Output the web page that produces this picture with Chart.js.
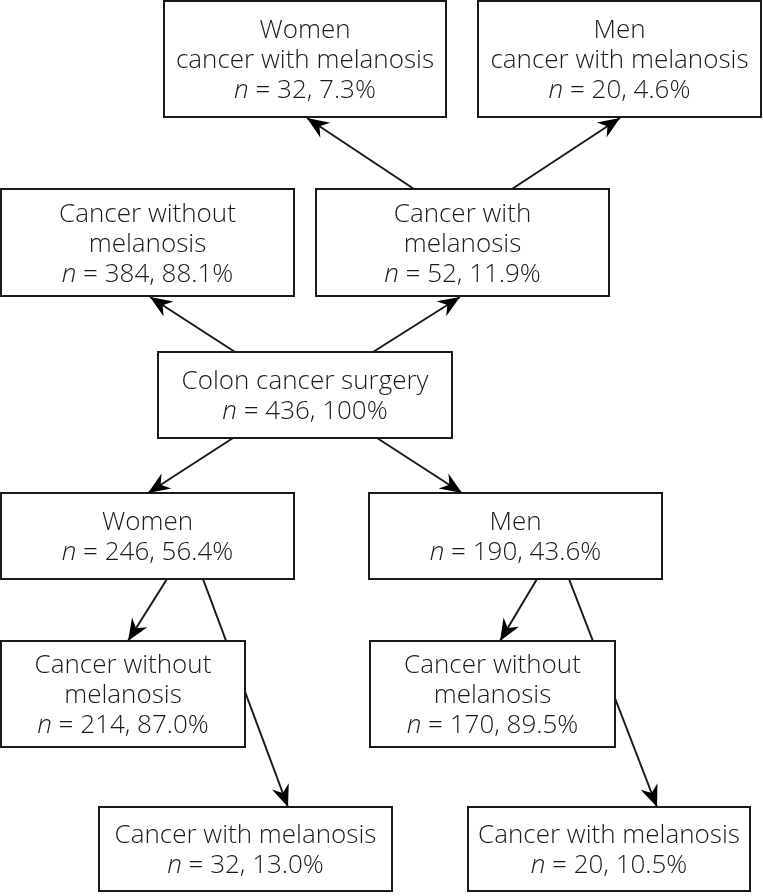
<!DOCTYPE html>
<html>
<head>
<meta charset="utf-8">
<script src="https://cdn.jsdelivr.net/npm/chart.js@4.4.0/dist/chart.umd.min.js"></script>
<style>
html,body{margin:0;padding:0;background:#fff;}
canvas{display:block;}
</style>
</head>
<body>
<canvas id="c" width="763" height="896"></canvas>
<script>
// ---- data ----
const nodeTitles = [
  ["Women", "cancer with melanosis"],
  ["Men", "cancer with melanosis"],
  ["Cancer without", "melanosis"],
  ["Cancer with", "melanosis"],
  ["Colon cancer surgery"],
  ["Women"],
  ["Men"],
  ["Cancer without", "melanosis"],
  ["Cancer without", "melanosis"],
  ["Cancer with melanosis"],
  ["Cancer with melanosis"]
];
const nodeCounts = [32, 20, 384, 52, 436, 246, 190, 214, 170, 32, 20];
const nodePercents = ["7.3", "4.6", "88.1", "11.9", "100", "56.4", "43.6", "87.0", "89.5", "13.0", "10.5"];

// ---- layout (scale units) ----
const nodeBoxes = [
  [164, 1, 446, 117],
  [478, 1, 761, 117],
  [1, 189, 294, 296],
  [316, 189, 609, 296],
  [158, 352, 452, 438],
  [1, 493, 294, 579],
  [369, 493, 662, 579],
  [1, 641, 245, 747],
  [370, 641, 615, 747],
  [99, 807, 392, 891],
  [468, 807, 750, 891]
];
// from node, to node, start point, end point
const edges = [
  [3, 0, 414, 189, 307, 118],
  [3, 1, 512, 189, 620, 118],
  [4, 2, 235, 352, 150, 297],
  [4, 3, 373, 352, 460, 297],
  [4, 5, 233, 438, 148, 493],
  [4, 6, 377, 438, 462, 493],
  [5, 7, 167, 579, 128, 641],
  [5, 9, 203, 579, 288, 807],
  [6, 8, 537, 579, 500, 641],
  [6, 10, 569, 579, 657, 807]
];

const FONT = "'Open Sans', 'Noto Sans', sans-serif";
const FS = 26;
const LH = 30;
const INK = '#1a1a1a';

const flowPlugin = {
  id: 'flow',
  afterDraw(chart) {
    const ctx = chart.ctx;
    const xs = chart.scales.x, ys = chart.scales.y;
    const px = v => xs.getPixelForValue(v);
    const py = v => ys.getPixelForValue(v);
    ctx.save();
    ctx.strokeStyle = INK;
    ctx.lineWidth = 2;
    edges.forEach(e => {
      ctx.beginPath();
      ctx.moveTo(px(e[2]), py(e[3]));
      ctx.lineTo(px(e[4]), py(e[5]));
      ctx.stroke();
    });
    nodeBoxes.forEach((b, i) => {
      const x0 = px(b[0]), y0 = py(b[1]), x1 = px(b[2]), y1 = py(b[3]);
      ctx.fillStyle = '#fff';
      ctx.fillRect(x0, y0, x1 - x0, y1 - y0);
      ctx.strokeStyle = INK;
      ctx.lineWidth = 2;
      ctx.strokeRect(x0, y0, x1 - x0, y1 - y0);
      const lines = nodeTitles[i].length + 1;
      const cx = (x0 + x1) / 2, cy = (y0 + y1) / 2 + 2;
      let ty = cy - (lines - 1) * LH / 2;
      ctx.fillStyle = INK;
      ctx.textBaseline = 'middle';
      ctx.textAlign = 'left';
      nodeTitles[i].forEach(t => {
        ctx.font = `300 ${FS}px ${FONT}`;
        const w = ctx.measureText(t).width;
        ctx.fillText(t, cx - w / 2, ty);
        ty += LH;
      });
      ctx.font = `italic 300 ${FS}px ${FONT}`;
      const a = 'n';
      const wa = ctx.measureText(a).width;
      ctx.font = `300 ${FS}px ${FONT}`;
      const rest = ' = ' + nodeCounts[i] + ', ' + nodePercents[i] + '%';
      const wr = ctx.measureText(rest).width;
      const sx = cx - (wa + wr) / 2;
      ctx.font = `italic 300 ${FS}px ${FONT}`;
      ctx.fillText(a, sx, ty);
      ctx.font = `300 ${FS}px ${FONT}`;
      ctx.fillText(rest, sx + wa, ty);
    });
    ctx.fillStyle = '#000';
    edges.forEach(e => {
      const x0 = px(e[2]), y0 = py(e[3]), x1 = px(e[4]), y1 = py(e[5]);
      const ang = Math.atan2(y1 - y0, x1 - x0);
      const L = 22, W = 9, N = 15;
      ctx.save();
      ctx.translate(x1, y1);
      ctx.rotate(ang);
      ctx.beginPath();
      ctx.moveTo(0, 0);
      ctx.lineTo(-L, -W);
      ctx.lineTo(-N, 0);
      ctx.lineTo(-L, W);
      ctx.closePath();
      ctx.fill();
      ctx.restore();
    });
    ctx.restore();
  }
};

new Chart(document.getElementById('c'), {
  type: 'scatter',
  data: {
    datasets: [{
      data: nodeBoxes.map(b => ({ x: (b[0] + b[2]) / 2, y: (b[1] + b[3]) / 2 })),
      pointRadius: 0
    }]
  },
  options: {
    responsive: false,
    animation: false,
    layout: { padding: 0 },
    plugins: { legend: { display: false }, tooltip: { enabled: false } },
    scales: {
      x: { type: 'linear', min: 0, max: 763, display: false },
      y: { type: 'linear', min: 0, max: 896, reverse: true, display: false }
    }
  },
  plugins: [flowPlugin]
});
</script>
</body>
</html>
